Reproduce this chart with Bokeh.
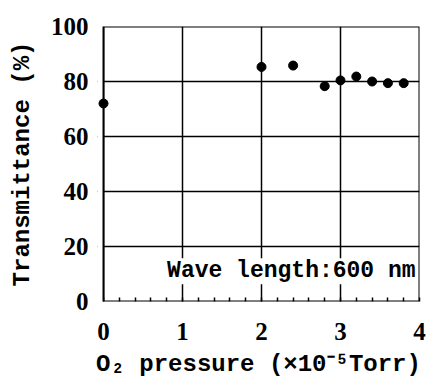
from bokeh.plotting import figure
from bokeh.models import Range1d, FixedTicker, Label, BoxAnnotation
from bokeh.embed import file_html
from bokeh.resources import INLINE

pressure = [0.0, 2.0, 2.4, 2.8, 3.0, 3.2, 3.4, 3.6, 3.8]
transmittance = [72.0, 85.3, 85.8, 78.3, 80.4, 81.8, 80.0, 79.4, 79.4]
x_ticks = [0, 1, 2, 3, 4]
y_ticks = [0, 20, 40, 60, 80, 100]
note = "Wave length:600 nm"

p = figure(width=429, height=382, output_backend="svg", toolbar_location=None,
           x_range=Range1d(-0.076, 4), y_range=Range1d(0, 100),
           min_border_left=97, min_border_right=10, min_border_top=26, min_border_bottom=81)
p.background_fill_color = "white"
p.border_fill_color = "white"
p.outline_line_color = None

p.xaxis.ticker = FixedTicker(ticks=x_ticks, minor_ticks=[i * 0.2 for i in range(21)])
p.yaxis.ticker = FixedTicker(ticks=y_ticks)

for ax in (p.xaxis[0], p.yaxis[0]):
    ax.axis_line_color = None
    ax.major_tick_in = 0
    ax.major_tick_out = 0
    ax.major_label_text_font = "Liberation Serif"
    ax.major_label_text_font_style = "bold"
    ax.major_label_text_font_size = "25px"
    ax.major_label_text_color = "black"
    ax.axis_label_text_font = "Liberation Mono"
    ax.axis_label_text_font_style = "bold"
    ax.axis_label_text_font_size = "24px"
    ax.axis_label_text_color = "black"

p.xaxis.minor_tick_in = 4
p.xaxis.minor_tick_out = 0
p.xaxis.minor_tick_line_color = "black"
p.xaxis.minor_tick_line_width = 1.5
p.yaxis.minor_tick_line_color = None
p.xaxis.major_label_standoff = 21
p.yaxis.major_label_standoff = 9
p.xaxis.axis_label = "O\u2082 pressure (\u00d710\u207b\u2075Torr)"
p.yaxis.axis_label = "Transmittance (%)"
p.xaxis.axis_label_standoff = 8
p.yaxis.axis_label_standoff = 12

p.xgrid.ticker = FixedTicker(ticks=x_ticks)
p.ygrid.ticker = FixedTicker(ticks=y_ticks)
for g in (p.xgrid[0], p.ygrid[0]):
    g.grid_line_color = "black"
    g.grid_line_width = 1.5
    g.grid_line_alpha = 1.0

# white strip left of x=0 (room so the x=0 marker is not clipped)
p.add_layout(BoxAnnotation(right=x_ticks[0], fill_color="white", fill_alpha=1.0,
                           line_color=None, level="annotation"))
# frame outline
p.add_layout(BoxAnnotation(left=x_ticks[0], right=x_ticks[-1], bottom=y_ticks[0], top=y_ticks[-1],
                           fill_alpha=0, line_color="black", line_width=2, line_alpha=1.0,
                           level="annotation"))

r = p.scatter(pressure, transmittance, size=9, color="black")
r.level = "overlay"

p.add_layout(Label(x=3.95, y=11, text=note, text_align="right", text_baseline="middle",
                   text_font="Liberation Mono", text_font_style="bold",
                   text_font_size="23px", text_color="black",
                   background_fill_color="white"))

open("out.html", "w").write(file_html(p, INLINE))
